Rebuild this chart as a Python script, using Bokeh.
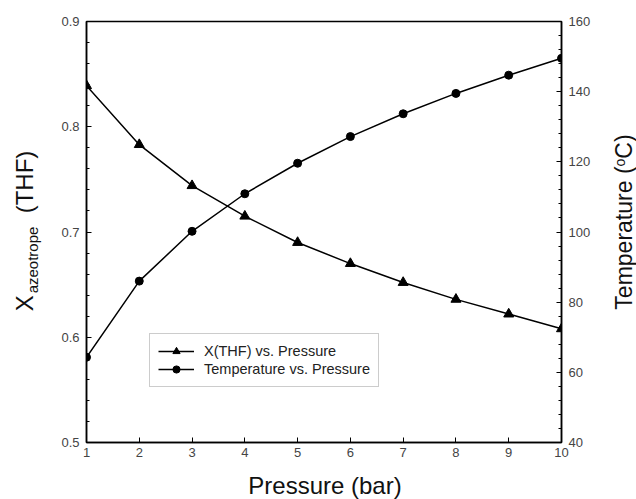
from bokeh.plotting import figure
from bokeh.models import (Range1d, LinearAxis, SingleIntervalTicker, Legend, Div)
from bokeh.layouts import row, column
from bokeh.embed import file_html
from bokeh.resources import INLINE

# ---- data ----
pressure = [1, 2, 3, 4, 5, 6, 7, 8, 9, 10]
x_thf = [0.839, 0.783, 0.744, 0.715, 0.690, 0.670, 0.652, 0.636, 0.622, 0.608]
temperature = [64.3, 86.0, 100.2, 110.9, 119.6, 127.2, 133.7, 139.5, 144.7, 149.5]

x_label = "Pressure (bar)"
legend_thf = "X(THF) vs. Pressure"
legend_temp = "Temperature vs. Pressure"

FONT = "Liberation Sans"
W, H = 636, 499
LEFT_W, RIGHT_W, BOTTOM_H = 45, 30, 30
FIG_W, FIG_H = W - LEFT_W - RIGHT_W, H - BOTTOM_H
FL, FR, FT, FB = 86, 561, 21, 442  # frame pixel box in the page

p = figure(width=FIG_W, height=FIG_H, output_backend="svg", toolbar_location=None,
           x_range=Range1d(1, 10), y_range=Range1d(0.5, 0.9),
           min_border_left=FL - LEFT_W, min_border_right=(LEFT_W + FIG_W) - FR,
           min_border_top=FT, min_border_bottom=FIG_H - FB, margin=0)
p.extra_y_ranges = {"temp": Range1d(40, 160)}
p.xgrid.visible = False
p.ygrid.visible = False
p.outline_line_color = "black"
p.outline_line_width = 1.5
p.background_fill_color = "white"
p.border_fill_color = "white"

def style_axis(ax):
    ax.axis_line_color = "black"
    ax.axis_line_width = 1.5
    ax.major_tick_in = 5
    ax.major_tick_out = 0
    ax.minor_tick_in = 3
    ax.minor_tick_out = 0
    ax.major_tick_line_color = "black"
    ax.minor_tick_line_color = "black"
    ax.major_label_text_font = FONT
    ax.major_label_text_font_size = "13px"
    ax.major_label_text_color = "#444444"
    ax.major_label_standoff = 7
    ax.axis_label = None

xa = p.xaxis[0]
xa.ticker = SingleIntervalTicker(interval=1, num_minor_ticks=0)
style_axis(xa)
xa.major_label_standoff = 5

ya = p.yaxis[0]
ya.ticker = SingleIntervalTicker(interval=0.1, num_minor_ticks=5)
style_axis(ya)

ra = LinearAxis(y_range_name="temp", ticker=SingleIntervalTicker(interval=20, num_minor_ticks=5))
style_axis(ra)
p.add_layout(ra, "right")

# ---- series ----
r1 = p.line(pressure, x_thf, line_color="black", line_width=1.5)
m1 = p.scatter(pressure, x_thf, marker="triangle", size=10, fill_color="black", line_color="black")
r2 = p.line(pressure, temperature, line_color="black", line_width=1.5, y_range_name="temp")
m2 = p.scatter(pressure, temperature, marker="circle", size=8, fill_color="black", line_color="black",
               y_range_name="temp")

legend = Legend(items=[(legend_thf, [r1, m1]), (legend_temp, [r2, m2])],
                location=(63, 55), label_text_font=FONT, label_text_font_size="14.5px",
                label_text_color="#222222", glyph_width=36, glyph_height=18, label_height=18,
                label_standoff=10, padding=8, spacing=0, margin=0,
                border_line_color="#999999", border_line_width=1,
                background_fill_color="white", background_fill_alpha=1.0)
p.add_layout(legend, "center")

# ---- axis titles as HTML text beside the figure ----
BASE = ("position:absolute; white-space:nowrap; font-family:'Liberation Sans'; "
        "color:#111111; line-height:1; ")

def rotated(html, cx, cy, size):
    return (f'<div style="{BASE} font-size:{size}px; left:{cx}px; top:{cy}px; '
            f'transform:translate(-50%,-50%) rotate(-90deg);">{html}</div>')

left_html = rotated('X<sub style="font-size:15px; line-height:0; vertical-align:-0.3em; '
                    'margin-left:2px;">azeotrope</sub>&nbsp;&nbsp;(THF)', 25, 231, 24)
right_html = rotated('Temperature (<sup style="font-size:14px; line-height:0; '
                     'vertical-align:0.45em;">o</sup>C)', 18, 222, 23)
bottom_html = (f'<div style="{BASE} font-size:24px; left:325px; top:17px; '
               f'transform:translate(-50%,-50%);">{x_label}</div>')

left_div = Div(text=left_html, width=LEFT_W, height=FIG_H, margin=0,
               styles={"overflow": "visible"})
right_div = Div(text=right_html, width=RIGHT_W, height=FIG_H, margin=0,
                styles={"overflow": "visible"})
bottom_div = Div(text=bottom_html, width=W, height=BOTTOM_H, margin=0,
                 styles={"overflow": "visible"})

layout = column(row(left_div, p, right_div, spacing=0, margin=0), bottom_div,
                spacing=0, margin=0)

open("out.html", "w").write(file_html(layout, INLINE))
